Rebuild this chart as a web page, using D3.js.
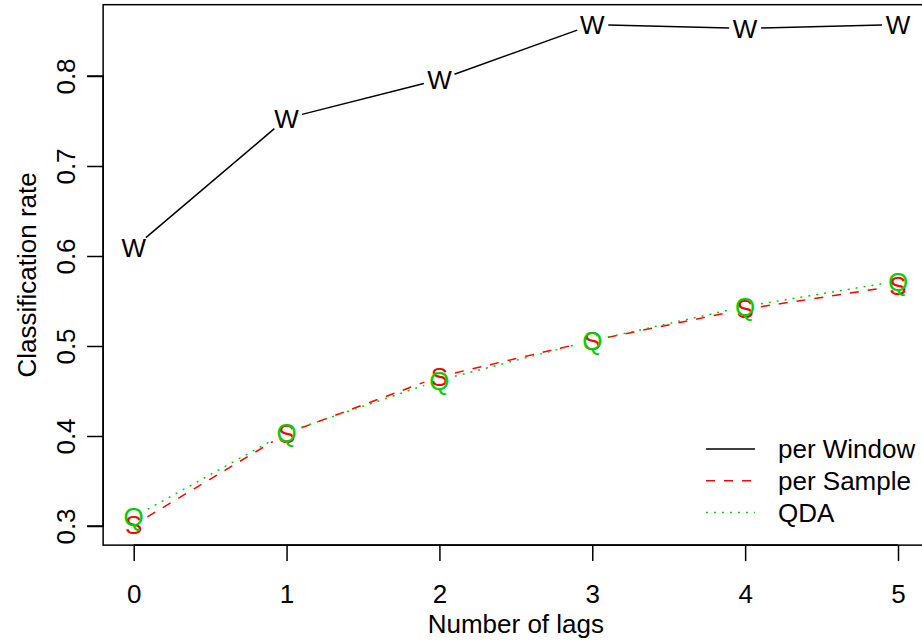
<!DOCTYPE html>
<html>
<head>
<meta charset="utf-8">
<script src="https://cdn.jsdelivr.net/npm/d3@7"></script>
<style>
  body { margin: 0; background: #fff; }
  svg { display: block; }
  text { font-family: "Liberation Sans", Arial, sans-serif; }
</style>
</head>
<body>
<div class="svg-container"></div>
<script>
// data
const lags = [0, 1, 2, 3, 4, 5];
const perWindow = [0.609, 0.753, 0.796, 0.857, 0.853, 0.857];
const perSample = [0.301, 0.403, 0.466, 0.506, 0.541, 0.567];
const qda = [0.310, 0.404, 0.462, 0.506, 0.544, 0.572];
const yTicks = [0.3, 0.4, 0.5, 0.6, 0.7, 0.8];
const legendLabels = ['per Window', 'per Sample', 'QDA'];

const W = 922, H = 641;
const fontSize = 26;

const svg = d3.select('.svg-container')
    .append('svg')
    .attr('width', W)
    .attr('height', H);

// scales (R style: usr range padded 4%)
const x = d3.scaleLinear().domain([0, 5]).range([133.7, 898]);
const y = d3.scaleLinear().domain([0.3, 0.8]).range([526, 76]);

const usrX = [-0.2, 5.2];
const yMin = d3.min([...perSample, ...qda]), yMax = d3.max(perWindow);
const pad = (yMax - yMin) * 0.04;
const usrY = [yMin - pad, yMax + pad];

// plot box
svg.append('rect')
    .attr('x', x(usrX[0]))
    .attr('y', y(usrY[1]))
    .attr('width', x(usrX[1]) - x(usrX[0]))
    .attr('height', y(usrY[0]) - y(usrY[1]))
    .attr('fill', 'none')
    .attr('stroke', '#000')
    .attr('stroke-width', 1.5);

const tickLen = 16;

// y axis
const yAxis = svg.append('g')
    .attr('transform', `translate(${x(usrX[0])},0)`)
    .call(d3.axisLeft(y).tickValues(yTicks).tickSize(tickLen).tickFormat(d3.format('.1f')));
yAxis.select('.domain').attr('d', `M${-tickLen},${y(0.3)}H0V${y(0.8)}H${-tickLen}`).attr('stroke-width', 1.5);
yAxis.selectAll('.tick line').attr('stroke-width', 1.5);
yAxis.selectAll('.tick text')
    .attr('x', 0).attr('dy', null)
    .attr('transform', 'translate(-28,0) rotate(-90)')
    .attr('text-anchor', 'middle')
    .attr('font-size', fontSize)
    .attr('font-family', null);

// x axis
const xAxis = svg.append('g')
    .attr('transform', `translate(0,${y(usrY[0])})`)
    .call(d3.axisBottom(x).tickValues(lags).tickSize(tickLen).tickFormat(d3.format('d')));
xAxis.select('.domain').attr('d', `M${x(0)},0H${x(5)}`).attr('stroke-width', 1.5);
xAxis.selectAll('.tick line').attr('stroke-width', 1.5);
xAxis.selectAll('.tick text')
    .attr('y', 58).attr('dy', null)
    .attr('font-size', fontSize)
    .attr('font-family', null);

// axis titles
svg.append('text')
    .attr('x', (x(usrX[0]) + x(usrX[1])) / 2)
    .attr('y', 633)
    .attr('text-anchor', 'middle')
    .attr('font-size', fontSize)
    .text('Number of lags');

svg.append('text')
    .attr('transform', `translate(36,${(y(usrY[0]) + y(usrY[1])) / 2}) rotate(-90)`)
    .attr('text-anchor', 'middle')
    .attr('font-size', fontSize)
    .text('Classification rate');

// series: R type="b" (lines with gaps at points)
const series = [
  {values: perWindow, color: '#000000', dash: null, pch: 'W'},
  {values: perSample, color: '#FF0000', dash: '9,9', pch: 'S'},
  {values: qda, color: '#00CD00', dash: '2,6', pch: 'Q'}
];
const gap = 16;

series.forEach(s => {
  const pts = lags.map((l, i) => [x(l), y(s.values[i])]);
  const g = svg.append('g');
  for (let i = 0; i < pts.length - 1; i++) {
    const [x0, y0] = pts[i], [x1, y1] = pts[i + 1];
    const len = Math.hypot(x1 - x0, y1 - y0);
    const ux = (x1 - x0) / len, uy = (y1 - y0) / len;
    g.append('line')
        .attr('x1', x0 + ux * gap).attr('y1', y0 + uy * gap)
        .attr('x2', x1 - ux * gap).attr('y2', y1 - uy * gap)
        .attr('stroke', s.color)
        .attr('stroke-width', 1.5)
        .attr('stroke-dasharray', s.dash);
  }
  g.selectAll('text')
    .data(pts)
    .enter().append('text')
      .attr('x', d => d[0])
      .attr('y', d => d[1])
      .attr('dy', '0.36em')
      .attr('text-anchor', 'middle')
      .attr('font-size', fontSize)
      .attr('fill', s.color)
      .text(s.pch);
});

// legend
const legend = svg.selectAll('.legend')
    .data(series)
    .enter().append('g')
      .attr('class', 'legend')
      .attr('transform', (d, i) => `translate(0,${449 + i * 31.7})`);

legend.append('line')
    .attr('x1', 706).attr('x2', 755)
    .attr('stroke', d => d.color)
    .attr('stroke-width', 1.5)
    .attr('stroke-dasharray', d => d.dash);

legend.append('text')
    .attr('x', 778)
    .attr('dy', '0.36em')
    .attr('font-size', fontSize)
    .text((d, i) => legendLabels[i]);
</script>
</body>
</html>
